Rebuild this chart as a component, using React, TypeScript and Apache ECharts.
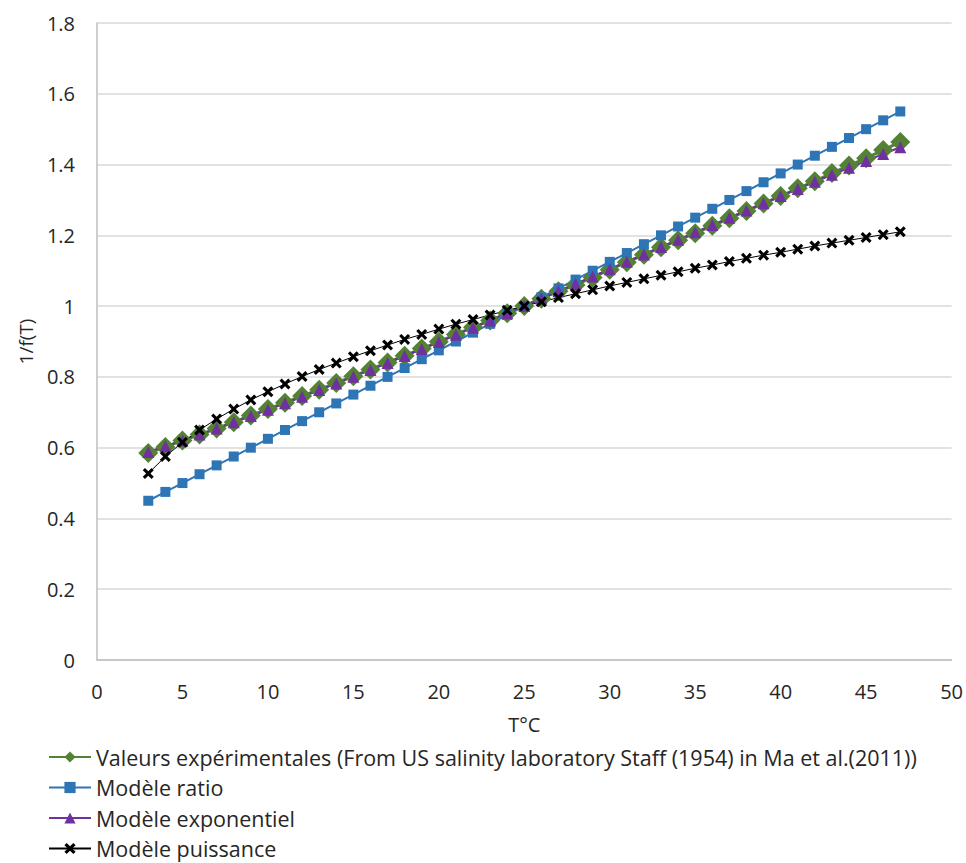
import React, { useEffect, useRef } from "react";
import * as echarts from "echarts";

const temperatures = [3,4,5,6,7,8,9,10,11,12,13,14,15,16,17,18,19,20,21,22,23,24,25,26,27,28,29,30,31,32,33,34,35,36,37,38,39,40,41,42,43,44,45,46,47];

const experimental = [0.585,0.602,0.620,0.637,0.654,0.672,0.691,0.709,0.727,0.746,0.764,0.783,0.802,0.821,0.841,0.860,0.880,0.899,0.920,0.940,0.959,0.980,1.000,1.021,1.042,1.060,1.081,1.103,1.124,1.145,1.166,1.186,1.206,1.227,1.248,1.269,1.290,1.311,1.333,1.353,1.376,1.397,1.418,1.441,1.464];

const ratioModel = [0.450,0.475,0.500,0.525,0.550,0.575,0.600,0.625,0.650,0.675,0.700,0.725,0.750,0.775,0.800,0.825,0.850,0.875,0.900,0.925,0.950,0.975,1.000,1.025,1.050,1.075,1.100,1.125,1.150,1.175,1.200,1.225,1.250,1.275,1.300,1.325,1.350,1.375,1.400,1.425,1.450,1.475,1.500,1.525,1.550];

const expModel = [0.5876,0.6039,0.6205,0.6373,0.6545,0.6719,0.6895,0.7074,0.7256,0.7440,0.7626,0.7815,0.8006,0.8198,0.8393,0.8589,0.8788,0.8987,0.9189,0.9391,0.9595,0.9800,1.0006,1.0212,1.0420,1.0627,1.0836,1.1044,1.1253,1.1461,1.1670,1.1877,1.2085,1.2292,1.2498,1.2703,1.2907,1.3110,1.3312,1.3512,1.3711,1.3908,1.4104,1.4297,1.4488];

const powerModel = [0.527,0.575,0.615,0.650,0.681,0.709,0.735,0.758,0.780,0.801,0.821,0.839,0.857,0.874,0.890,0.906,0.920,0.935,0.949,0.962,0.975,0.988,1.000,1.012,1.024,1.035,1.046,1.057,1.067,1.077,1.087,1.097,1.107,1.116,1.126,1.135,1.144,1.152,1.161,1.170,1.178,1.186,1.194,1.202,1.210];

const seriesNames = [
  "Valeurs expérimentales (From US salinity laboratory Staff (1954) in Ma et al.(2011))",
  "Modèle ratio",
  "Modèle exponentiel",
  "Modèle puissance",
];

const xTitle = "T°C";
const yTitle = "1/f(T)";

const FONT = "'Open Sans', Lato, sans-serif";
const CROSS = "path://M2,0L5,3L8,0L10,2L7,5L10,8L8,10L5,7L2,10L0,8L3,5L0,2Z";

function pairs(ys: number[]) {
  return temperatures.map((t, i) => [t, ys[i]]);
}

export default function App() {
  const ref = useRef<HTMLDivElement>(null);
  useEffect(() => {
    if (!ref.current) return;
    const chart = echarts.init(ref.current, undefined, { renderer: "svg" });
    chart.setOption({
      animation: false,
      backgroundColor: "#ffffff",
      textStyle: { fontFamily: FONT },
      grid: { left: 97, right: 14, top: 23, bottom: 203, containLabel: false },
      xAxis: {
        type: "value",
        min: 0,
        max: 50,
        interval: 5,
        name: xTitle,
        nameLocation: "middle",
        nameGap: 54,
        nameTextStyle: { fontSize: 20, color: "#262626", fontFamily: FONT },
        axisLine: { show: true, lineStyle: { color: "#bfbfbf", width: 1.5 } },
        axisTick: { show: false },
        splitLine: { show: false },
        axisLabel: { fontSize: 20, color: "#262626", margin: 21, fontFamily: FONT },
      },
      yAxis: {
        type: "value",
        min: 0,
        max: 1.8,
        interval: 0.2,
        name: yTitle,
        nameLocation: "middle",
        nameGap: 62,
        nameRotate: 90,
        nameTextStyle: { fontSize: 19, color: "#262626", fontFamily: FONT },
        axisLine: { show: true, lineStyle: { color: "#bfbfbf", width: 1.5 } },
        axisTick: { show: false },
        splitLine: { show: true, lineStyle: { color: "#d9d9d9", width: 1.5 } },
        axisLabel: { fontSize: 20, color: "#262626", margin: 22, fontFamily: FONT },
      },
      legend: {
        orient: "vertical",
        left: 43,
        top: 741,
        height: 130,
        itemWidth: 42,
        itemHeight: 14,
        itemGap: 8.5,
        textStyle: { fontSize: 21.5, color: "#262626", fontFamily: FONT, lineHeight: 21 },
        data: seriesNames,
      },
      series: [
        {
          name: seriesNames[0],
          type: "line",
          data: pairs(experimental),
          symbol: "diamond",
          symbolSize: 20,
          lineStyle: { color: "#548235", width: 3 },
          itemStyle: { color: "#548235" },
        },
        {
          name: seriesNames[1],
          type: "line",
          data: pairs(ratioModel),
          symbol: "rect",
          symbolSize: 10,
          lineStyle: { color: "#2E75B6", width: 2 },
          itemStyle: { color: "#2E75B6" },
        },
        {
          name: seriesNames[2],
          type: "line",
          data: pairs(expModel),
          symbol: "triangle",
          symbolSize: 12,
          lineStyle: { color: "#7030A0", width: 2 },
          itemStyle: { color: "#7030A0" },
        },
        {
          name: seriesNames[3],
          type: "line",
          data: pairs(powerModel),
          symbol: CROSS,
          symbolSize: 11,
          lineStyle: { color: "#000000", width: 1 },
          itemStyle: { color: "#000000" },
        },
      ],
    });
    return () => chart.dispose();
  }, []);
  return (
    <div
      ref={ref}
      style={{ position: "fixed", left: 0, top: 0, width: 966, height: 863 }}
    />
  );
}
